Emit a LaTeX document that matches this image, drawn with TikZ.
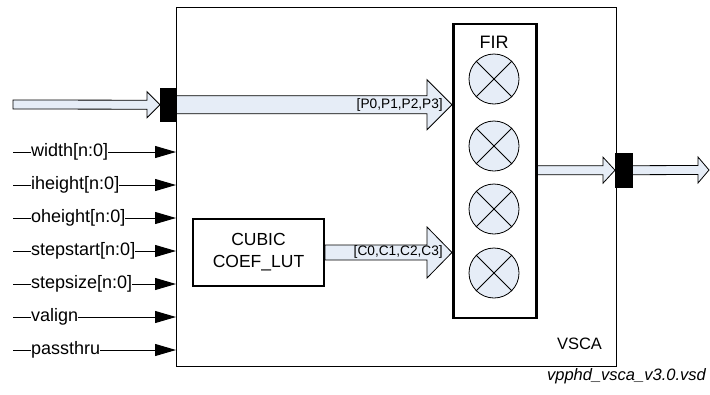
\documentclass[tikz,border=0pt]{standalone}
\usepackage{fontspec}
\setmainfont{Liberation Sans}
\usetikzlibrary{calc,arrows.meta}
\definecolor{lblue}{RGB}{230,237,247}
\newcommand\fatarr[5]{%
  \draw[fatstyle] ($(#1)+(0,#3)$) -- ($(#2)+(-#5,#3)$) -- ($(#2)+(-#5,#4)$) -- (#2)
    -- ($(#2)+(-#5,-#4)$) -- ($(#2)+(-#5,-#3)$) -- ($(#1)+(0,-#3)$) -- cycle;}
\tikzset{
  fatstyle/.style={draw=black, fill=lblue, line width=0.8pt, line join=miter},
  portbox/.style={draw=black, fill=black, inner sep=0pt, anchor=north west},
  sigtxt/.style={anchor=west, inner sep=0pt, font=\fontsize{18}{20}\selectfont},
  sigarr/.style={line width=1pt, -{Triangle[length=21pt,width=12pt]}},
  sigline/.style={line width=1pt},
  mult/.style={circle, draw=black, fill=lblue, line width=0.8pt, minimum size=50pt, inner sep=0pt},
}
\begin{document}
\begin{tikzpicture}[x=1pt,y=-1pt]
\useasboundingbox (0,0) rectangle (710,394);
% main box
\node[draw, line width=1.3pt, inner sep=0pt, minimum width=440pt, minimum height=359pt, anchor=north west] (vsca) at (176,7) {};
\node[font=\fontsize{16.5}{18}\selectfont, inner sep=0pt] (vscal) at (579.5,344) {VSCA};
\node[font=\fontsize{16.5}{18}\selectfont\itshape, inner sep=0pt, anchor=base east] (fname) at (706,380) {vpphd\_vsca\_v3.0.vsd};
% FIR box
\node[draw, line width=2.5pt, inner sep=0pt, minimum width=83pt, minimum height=294pt, anchor=north west] (fir) at (452,22.5) {};
\node[font=\fontsize{18}{20}\selectfont, inner sep=0pt] (firl) at (494,42) {FIR};
\foreach \i/\yy in {1/79,2/146,3/209,4/273}{
  \node[mult] (m\i) at (494,\yy) {};
  \draw[line width=0.8pt] (m\i.45) -- (m\i.225) (m\i.135) -- (m\i.315);
}
% LUT box
\node[draw, line width=2pt, inner sep=0pt, minimum width=131pt, minimum height=67pt, anchor=north west, align=center, font=\fontsize{17.5}{22}\selectfont] (lut) at (192,218) {CUBIC\\COEF\_LUT};
% ports
\node[portbox, minimum width=16pt, minimum height=33pt] (pin) at (160,88) {};
\node[portbox, minimum width=17pt, minimum height=34pt] (pout) at (615,153) {};
% fat arrows
\coordinate (insrc) at (13,104.5);
\coordinate (outdst) at (709,170);
\fatarr{insrc}{pin.west}{4.5}{13}{13}
\fatarr{pin.east}{pin.east -| fir.west}{9}{25}{25}
\fatarr{lut.east}{lut.east -| fir.west}{7.5}{25.5}{25}
\fatarr{fir.east |- pout.west}{pout.west}{4.5}{13}{12}
\fatarr{pout.east}{outdst}{4.5}{13}{11}
\node[portbox, minimum width=16pt, minimum height=33pt] at (160,88) {};
\node[portbox, minimum width=17pt, minimum height=34pt] at (615,153) {};
\node[anchor=east, inner sep=0pt, font=\fontsize{13.7}{15}\selectfont] (plab) at (443,105) {[P0,P1,P2,P3]};
\node[anchor=east, inner sep=0pt, font=\fontsize{13.7}{15}\selectfont] (clab) at (443,252) {[C0,C1,C2,C3]};
% signals
\foreach \n/\t/\yy in {a/width[n:0]/152, b/iheight[n:0]/185, c/oheight[n:0]/218, d/stepstart[n:0]/251, e/stepsize[n:0]/284, f/valign/317, g/passthru/350}{
  \coordinate (s\n) at (13,\yy);
  \coordinate (e\n) at (176,\yy);
  \node[sigtxt] (l\n) at (31,\yy) {\t};
  \draw[sigline] (s\n) -- (l\n.west);
  \draw[sigarr] (l\n.east) -- (e\n);
}
\end{tikzpicture}
\end{document}
